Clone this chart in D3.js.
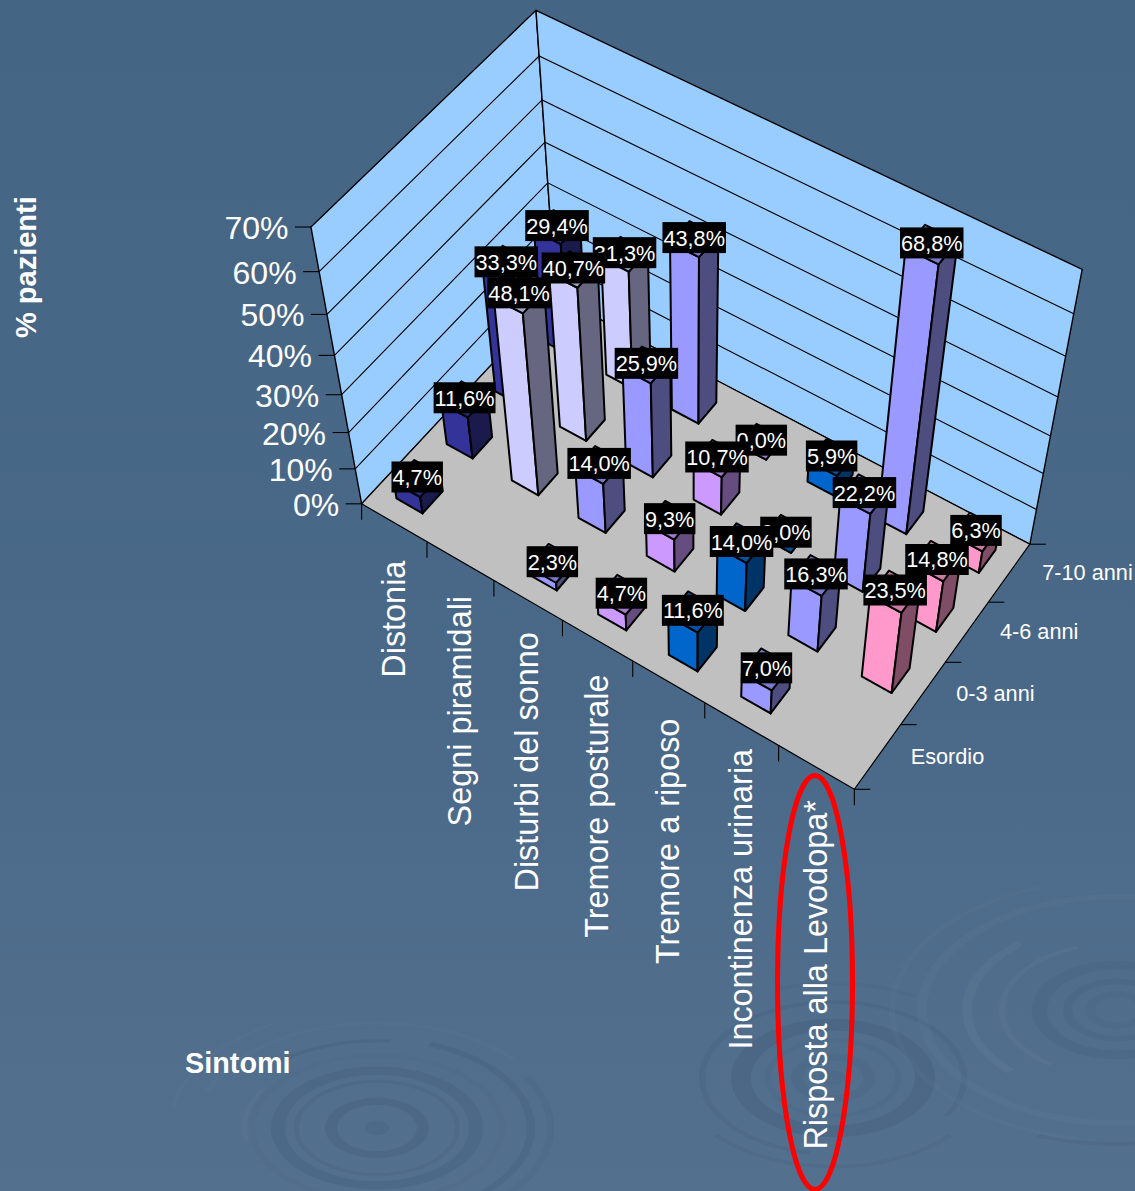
<!DOCTYPE html>
<html><head><meta charset="utf-8">
<script src="https://cdn.jsdelivr.net/npm/d3@7"></script>
<style>html,body{margin:0;padding:0;overflow:hidden;background:#4a6888}svg{display:block}text{font-family:"Liberation Sans",Arial,sans-serif;fill:#fff}</style>
</head><body><svg id="c" width="1135" height="1191"></svg>
<script>
// ---- data ----
const categories = ["Distonia","Segni piramidali","Disturbi del sonno","Tremore posturale","Tremore a riposo","Incontinenza urinaria","Risposta alla Levodopa*"];
const seriesNames = ["Esordio","0-3 anni","4-6 anni","7-10 anni"];
const esordio  = [4.7, null, 2.3, 4.7, 11.6, 7.0, null];
const anni0_3  = [11.6, 48.1, 14.0, 9.3, 14.0, 16.3, 23.5];
const anni4_6  = [33.3, 40.7, 25.9, 10.7, 0.0, 22.2, 14.8];
const anni7_10 = [29.4, 31.3, 43.8, 0.0, 5.9, 68.8, 6.3];
const valueTicks = [0,10,20,30,40,50,60,70];
const rows = [esordio, anni0_3, anni4_6, anni7_10];
// ---- styles / layout ----
const categoryColors = ["#333399","#CCCCFF","#9999FF","#CC99FF","#0066CC","#9999FF","#FF99CC"];
const catLabelGap = [38,35,32,34,37,25,33];
const W = 1135, H = 1191;

// Projection fitted to the chart-box anchors (unit cube -> screen)
const anchors = [
 [[0,0,0],[362,503]],[[1,0,0],[855,789]],[[1,0,1],[1030,545]],[[0,0,1],[554,296]],
 [[0,1,0],[310,228]],[[0,1,1],[537,10]],[[1,1,1],[1082,268]],
 [[0,3/7,0],[341.5,395]],[[0,3/7,1],[549,183]],[[1,5/7,1],[1065,357]]
];
function fitProjection(pts){
  const A=[],b=[];
  pts.forEach(([[X,Y,Z],[u,v]])=>{
    A.push([X,Y,Z,1,0,0,0,0,-u*X,-u*Y,-u*Z]);b.push(u);
    A.push([0,0,0,0,X,Y,Z,1,-v*X,-v*Y,-v*Z]);b.push(v);
  });
  const n=11,M=[];
  for(let i=0;i<n;i++){M.push(new Array(n+1).fill(0));
    for(let j=0;j<n;j++)for(let k=0;k<A.length;k++)M[i][j]+=A[k][i]*A[k][j];
    for(let k=0;k<A.length;k++)M[i][n]+=A[k][i]*b[k];}
  for(let i=0;i<n;i++){let p=i;for(let r=i+1;r<n;r++)if(Math.abs(M[r][i])>Math.abs(M[p][i]))p=r;
    [M[i],M[p]]=[M[p],M[i]];
    for(let r=0;r<n;r++){if(r===i)continue;const f=M[r][i]/M[i][i];for(let c=i;c<=n;c++)M[r][c]-=f*M[i][c];}}
  return M.map((r,i)=>r[n]/r[i]);
}
const m = fitProjection(anchors);
function project(x,y,z){
  const w=m[8]*x+m[9]*y+m[10]*z+1;
  return [(m[0]*x+m[1]*y+m[2]*z+m[3])/w,(m[4]*x+m[5]*y+m[6]*z+m[7])/w];
}
// Scales
const xBand = d3.scaleBand().domain(categories).range([0,1]).paddingInner(0.6).paddingOuter(0.3);
const zBand = d3.scaleBand().domain(seriesNames).range([0,1]).paddingInner(0.6).paddingOuter(0.3);
const xEdge = d3.scaleLinear().domain([0,categories.length]).range([0,1]);
const zEdge = d3.scaleLinear().domain([0,seriesNames.length]).range([0,1]);
const yS = d3.scaleLinear().domain([0,70]).range([0,1]);

const svg = d3.select("#c");
const defs = svg.append("defs");
const bg = defs.append("linearGradient").attr("id","bg").attr("x1",0).attr("x2",0).attr("y1",0).attr("y2",1);
bg.append("stop").attr("offset","0%").attr("stop-color","#456584");
bg.append("stop").attr("offset","60%").attr("stop-color","#4a6988");
bg.append("stop").attr("offset","100%").attr("stop-color","#54708F");
svg.append("rect").attr("width",W).attr("height",H).attr("fill","url(#bg)");

// Ripple decoration
const dark="#3e5b76", light="#6d88a3";
const deg=Math.PI/180;
const ripples=[
 {cx:377,cy:1128,rings:[[0,12,0,360,dark,.2],[40,52,0,360,dark,.32],[78,83,0,360,dark,.25],[92,106,0,360,dark,.28],[122,128,0,360,dark,.08],[150,158,20,175,dark,.28],[148,153,-40,5,dark,.28],[170,177,60,175,dark,.16],[130,135,-100,-60,light,.12],[178,184,-70,50,light,.1],[205,210,-80,-30,light,.08]]},
 {cx:833,cy:1078,rings:[[0,12,0,360,dark,.18],[30,42,0,360,dark,.18],[62,68,0,360,dark,.15],[82,102,0,360,dark,.32],[128,134,0,120,dark,.24],[128,134,190,360,dark,.24],[150,156,130,230,dark,.18],[160,166,-20,30,dark,.12]]},
 {cx:1117,cy:1010,rings:[[22,32,0,360,dark,.14],[45,54,0,360,dark,.18],[70,85,0,360,dark,.2],[112,118,215,340,light,.16],[145,155,225,320,light,.18],[190,200,170,400,light,.14],[222,228,190,340,light,.1],[228,234,150,200,dark,.22]]}
];
const ripG=svg.append("g");
const arcGen=d3.arc();
ripples.forEach(r=>{
  ripG.append("g").attr("transform",`translate(${r.cx},${r.cy}) scale(1,0.58)`)
   .selectAll("path").data(r.rings).join("path")
   .attr("d",d=>arcGen({innerRadius:d[0],outerRadius:d[1],startAngle:d[2]*deg,endAngle:d[3]*deg}))
   .attr("fill",d=>d[4]).attr("opacity",d=>d[5]);
});

const line = d3.line();
const poly = pts => line(pts)+"Z";
const box = svg.append("g");
const lw=1.4;
// Walls and floor
box.append("path").attr("d",poly([project(0,0,0),project(0,1,0),project(0,1,1),project(0,0,1)])).attr("fill","#99CCFF").attr("stroke","#000").attr("stroke-width",lw).attr("stroke-linejoin","round");
box.append("path").attr("d",poly([project(0,0,1),project(0,1,1),project(1,1,1),project(1,0,1)])).attr("fill","#99CCFF").attr("stroke","#000").attr("stroke-width",lw).attr("stroke-linejoin","round");
// Grid lines
box.selectAll("path.grid").data(valueTicks.filter(t=>t>0&&t<70)).join("path").attr("class","grid")
 .attr("d",t=>line([project(0,yS(t),0),project(0,yS(t),1),project(1,yS(t),1)]))
 .attr("fill","none").attr("stroke","#000").attr("stroke-width",1.1);
box.append("path").attr("d",poly([project(0,0,0),project(1,0,0),project(1,0,1),project(0,0,1)])).attr("fill","#C0C0C0").attr("stroke","#000").attr("stroke-width",1.2);

// Ticks
const tickLen=16;
box.selectAll("path.yt").data(valueTicks).join("path").attr("class","yt")
 .attr("d",t=>{const p=project(0,yS(t),0);return line([p,[p[0]-tickLen,p[1]]]);}).attr("stroke","#000").attr("stroke-width",1.1);
box.selectAll("path.xt").data(d3.range(categories.length+1)).join("path").attr("class","xt")
 .attr("d",i=>{const p=project(xEdge(i),0,0);return line([p,[p[0],p[1]+tickLen]]);}).attr("stroke","#000").attr("stroke-width",1.1);
box.selectAll("path.zt").data(d3.range(seriesNames.length+1)).join("path").attr("class","zt")
 .attr("d",i=>{const p=project(1,0,zEdge(i));return line([p,[p[0]+tickLen,p[1]]]);}).attr("stroke","#000").attr("stroke-width",1.1);

// Axis text
svg.append("g").selectAll("text").data(valueTicks).join("text")
 .attr("x",t=>project(0,yS(t),0)[0]-tickLen-6.5).attr("y",t=>project(0,yS(t),0)[1]+12)
 .attr("text-anchor","end").attr("font-size",32).text(t=>t+"%");
svg.append("g").selectAll("text").data(categories).join("text")
 .attr("transform",(c,i)=>{const p=project(xEdge(i+.5),0,0);return `translate(${p[0]+10.5},${p[1]+catLabelGap[i]}) rotate(-90)`;})
 .attr("text-anchor","end").attr("font-size",32.4).text(c=>c);
svg.append("g").selectAll("text").data(seriesNames).join("text")
 .attr("x",s=>project(1,0,zEdge(seriesNames.indexOf(s)+.5))[0]+33)
 .attr("y",s=>project(1,0,zEdge(seriesNames.indexOf(s)+.5))[1]+7.5)
 .attr("font-size",21.7).text(s=>s);
svg.append("text").attr("transform","translate(36,338) rotate(-90)").attr("font-size",29).attr("font-weight","bold").text("% pazienti");
svg.append("text").attr("x",185).attr("y",1072.5).attr("font-size",28.8).attr("font-weight","bold").text("Sintomi");

// Bars
const cells=[];
d3.range(rows.length-1,-1,-1).forEach(r=>{
  categories.forEach((c,i)=>{ if(rows[r][i]!==null) cells.push({c,i,r,v:rows[r][i]}); });
});
const shade=(col,k)=>{const q=d3.rgb(col);return d3.rgb(q.r*k,q.g*k,q.b*k).formatHex();};
const barG=svg.append("g").selectAll("g").data(cells).join("g");
const facet=(sel,fn,k)=>sel.append("path").attr("d",d=>{
   const x0=xBand(d.c),x1=x0+xBand.bandwidth(),z0=zBand(seriesNames[d.r]),z1=z0+zBand.bandwidth(),y=yS(d.v);
   return poly(fn(x0,x1,z0,z1,y));})
 .attr("fill",d=>shade(categoryColors[d.i],k)).attr("stroke","#000").attr("stroke-width",2).attr("stroke-linejoin","round");
facet(barG,(x0,x1,z0,z1,y)=>[project(x0,0,z0),project(x1,0,z0),project(x1,y,z0),project(x0,y,z0)],1);
facet(barG,(x0,x1,z0,z1,y)=>[project(x1,0,z0),project(x1,0,z1),project(x1,y,z1),project(x1,y,z0)],0.5);
facet(barG,(x0,x1,z0,z1,y)=>[project(x0,y,z0),project(x1,y,z0),project(x1,y,z1),project(x0,y,z1)],0.8);

// Data labels
const fmt=v=>v.toFixed(1).replace(".",",")+"%";
const labG=svg.append("g").selectAll("g").data(cells).join("g")
 .attr("transform",d=>{
   const p=project(xBand(d.c)+xBand.bandwidth()/2,yS(d.v),zBand(seriesNames[d.r])+zBand.bandwidth()/2);
   return `translate(${p[0]},${p[1]-1.5})`;});
const labT=labG.append("text").attr("text-anchor","middle").attr("y",8).attr("font-size",21.7).text(d=>fmt(d.v));
labT.each(function(){const w=this.getComputedTextLength();
  d3.select(this.parentNode).insert("rect","text").attr("x",-w/2-1).attr("y",-15.5).attr("width",w+2).attr("height",31).attr("fill","#000");});

// Highlight ellipse
svg.append("ellipse").attr("cx",815).attr("cy",982.5).attr("rx",37.5).attr("ry",207).attr("fill","none").attr("stroke","#FF0000").attr("stroke-width",5);
</script></body></html>
